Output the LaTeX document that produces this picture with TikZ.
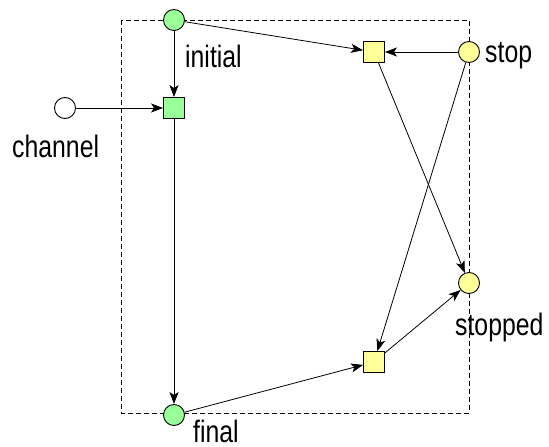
\documentclass[tikz,border=0pt]{standalone}
\usepackage{fontspec}
\setmainfont{Liberation Sans}[FakeStretch=0.8]
\usetikzlibrary{arrows.meta}
\definecolor{placegreen}{RGB}{153,255,153}
\definecolor{placeyellow}{RGB}{255,255,153}
\begin{document}
\begin{tikzpicture}[x=1pt, y=-1pt,
	place/.style={circle, draw, line width=0.9pt, minimum size=21pt, inner sep=0pt},
	trans/.style={rectangle, draw, line width=0.9pt, minimum size=21pt, inner sep=0pt},
	lbl/.style={font=\fontsize{31}{31}\selectfont, inner sep=0pt, anchor=base west},
	arc/.style={line width=0.8pt, -{Stealth[length=12pt, width=9pt, inset=3pt]}}]
	\useasboundingbox (0,0) rectangle (549,447);
	% boundary
	\draw[line width=0.8pt, dash pattern=on 5pt off 3pt] (121,20) rectangle (469,413);

	% places
	\node[place, fill=placegreen] (initial) at (174,20) {};
	\node[place, fill=white] (channel) at (65,108) {};
	\node[place, fill=placeyellow] (stop) at (469,52) {};
	\node[place, fill=placeyellow] (stopped) at (469,283) {};
	\node[place, fill=placegreen] (final) at (174,415) {};

	% transitions
	\node[trans, fill=placegreen] (tinit) at (174,108) {};
	\node[trans, fill=placeyellow] (tstop) at (374,52) {};
	\node[trans, fill=placeyellow] (tstopped) at (374,362) {};

	% labels
	\node[lbl] (linitial) at (185,67) {initial};
	\node[lbl] (lchannel) at (12,157) {channel};
	\node[lbl] (lstop) at (485,62) {stop};
	\node[lbl] (lstopped) at (455,335) {stopped};
	\node[lbl] (lfinal) at (193,442) {final};

	% arcs
	\draw[arc] (initial) -- (tinit);
	\draw[arc] (channel) -- (tinit);
	\draw[arc] (tinit) -- (final);
	\draw[arc] (initial) -- (tstop);
	\draw[arc] (stop) -- (tstop);
	\draw[arc] (tstop) -- (stopped);
	\draw[arc] (stop) -- (tstopped);
	\draw[arc] (final) -- (tstopped);
	\draw[arc] (tstopped) -- (stopped);
\end{tikzpicture}
\end{document}
